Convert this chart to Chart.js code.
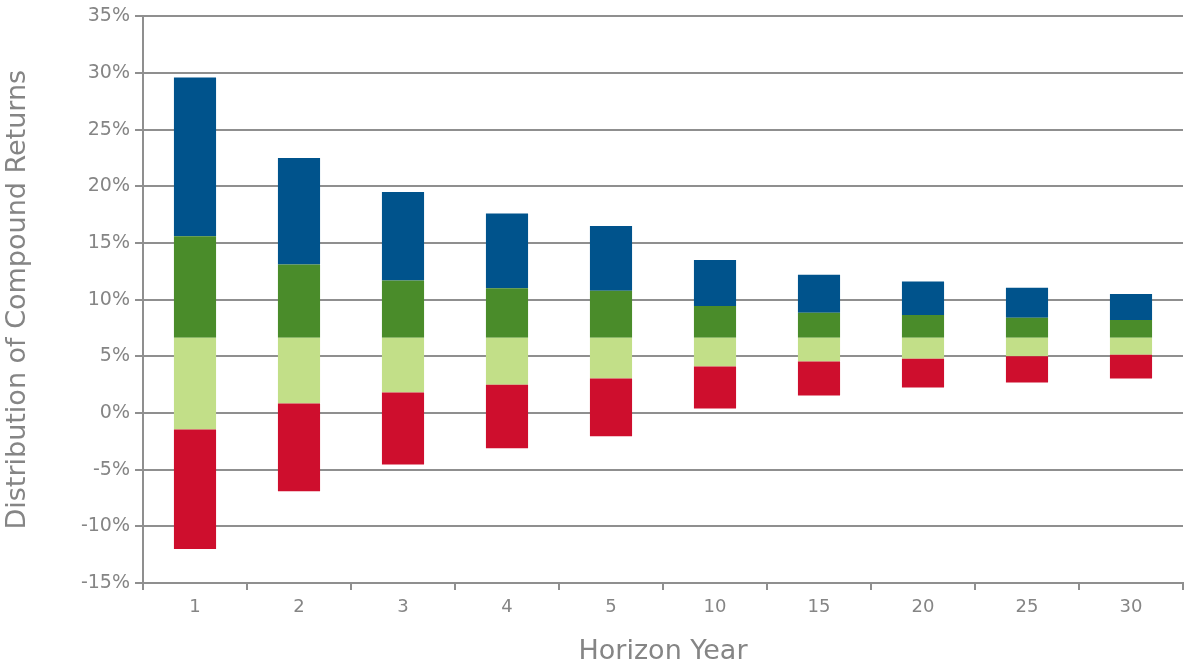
<!DOCTYPE html>
<html>
<head>
<meta charset="utf-8">
<script src="https://cdn.jsdelivr.net/npm/chart.js@4.4.1/dist/chart.umd.min.js"></script>
<style>
  html, body { margin: 0; padding: 0; background: #fff; }
  #wrap { width: 1184px; height: 668px; position: relative; }
</style>
</head>
<body>
<div id="wrap"><canvas id="chart"></canvas></div>
<script>
const horizons = ["1", "2", "3", "4", "5", "10", "15", "20", "25", "30"];

// percentile boundaries of compound returns (%)
const low    = [-12.0, -6.9, -4.55, -3.1, -2.05, 0.4, 1.55, 2.25, 2.7, 3.05];
const p25    = [-1.45, 0.85, 1.8, 2.5, 3.05, 4.1, 4.55, 4.8, 5.0, 5.15];
const median = [6.65, 6.65, 6.65, 6.65, 6.65, 6.65, 6.65, 6.65, 6.65, 6.65];
const p75    = [15.6, 13.1, 11.7, 11.0, 10.8, 9.45, 8.85, 8.65, 8.4, 8.2];
const high   = [29.6, 22.5, 19.5, 17.6, 16.5, 13.5, 12.2, 11.6, 11.05, 10.5];

const yTicks = [-15, -10, -5, 0, 5, 10, 15, 20, 25, 30, 35];

const segments = [
  { label: "Low to 25th", from: low, to: p25, color: "#CE0E2D" },
  { label: "25th to median", from: p25, to: median, color: "#C2DF88" },
  { label: "Median to 75th", from: median, to: p75, color: "#4A8C2A" },
  { label: "75th to high", from: p75, to: high, color: "#00538C" }
];

const textGray = "#858585";
const lineGray = "#8f8f8f";
const fontFamily = "'DejaVu Sans', sans-serif";

new Chart(document.getElementById("chart"), {
  type: "bar",
  data: {
    labels: horizons,
    datasets: segments.map((s) => ({
      label: s.label,
      data: s.from.map((v, i) => [v, s.to[i]]),
      backgroundColor: s.color,
      borderWidth: 0,
      grouped: false,
      categoryPercentage: 1,
      barPercentage: 0.405
    }))
  },
  options: {
    responsive: true,
    maintainAspectRatio: false,
    animation: false,
    layout: { padding: { top: 15, right: 1, bottom: 0, left: 0 } },
    plugins: {
      legend: { display: false },
      tooltip: { enabled: false }
    },
    scales: {
      x: {
        offset: true,
        grid: {
          offset: true,
          drawOnChartArea: false,
          drawTicks: true,
          tickLength: 7,
          color: lineGray,
          lineWidth: 2
        },
        border: { display: true, color: lineGray, width: 2 },
        ticks: {
          color: textGray,
          padding: 7,
          font: { family: fontFamily, size: 18 }
        },
        title: {
          display: true,
          text: "Horizon Year",
          color: textGray,
          padding: 0,
          font: { family: fontFamily, size: 27 }
        },
        afterFit(scale) { scale.height = 85; }
      },
      y: {
        min: -15,
        max: 35,
        afterBuildTicks(scale) { scale.ticks = yTicks.map((v) => ({ value: v })); },
        grid: {
          color: lineGray,
          lineWidth: 2,
          tickLength: 8
        },
        border: { display: true, color: lineGray, width: 2 },
        ticks: {
          color: textGray,
          padding: 5,
          font: { family: fontFamily, size: 19 },
          callback: (v) => v + "%"
        },
        title: {
          display: true,
          text: "Distribution of Compound Returns",
          color: textGray,
          padding: { top: 2, bottom: 0 },
          font: { family: fontFamily, size: 27 }
        },
        afterFit(scale) { scale.width = 143; }
      }
    }
  }
});
</script>
</body>
</html>
